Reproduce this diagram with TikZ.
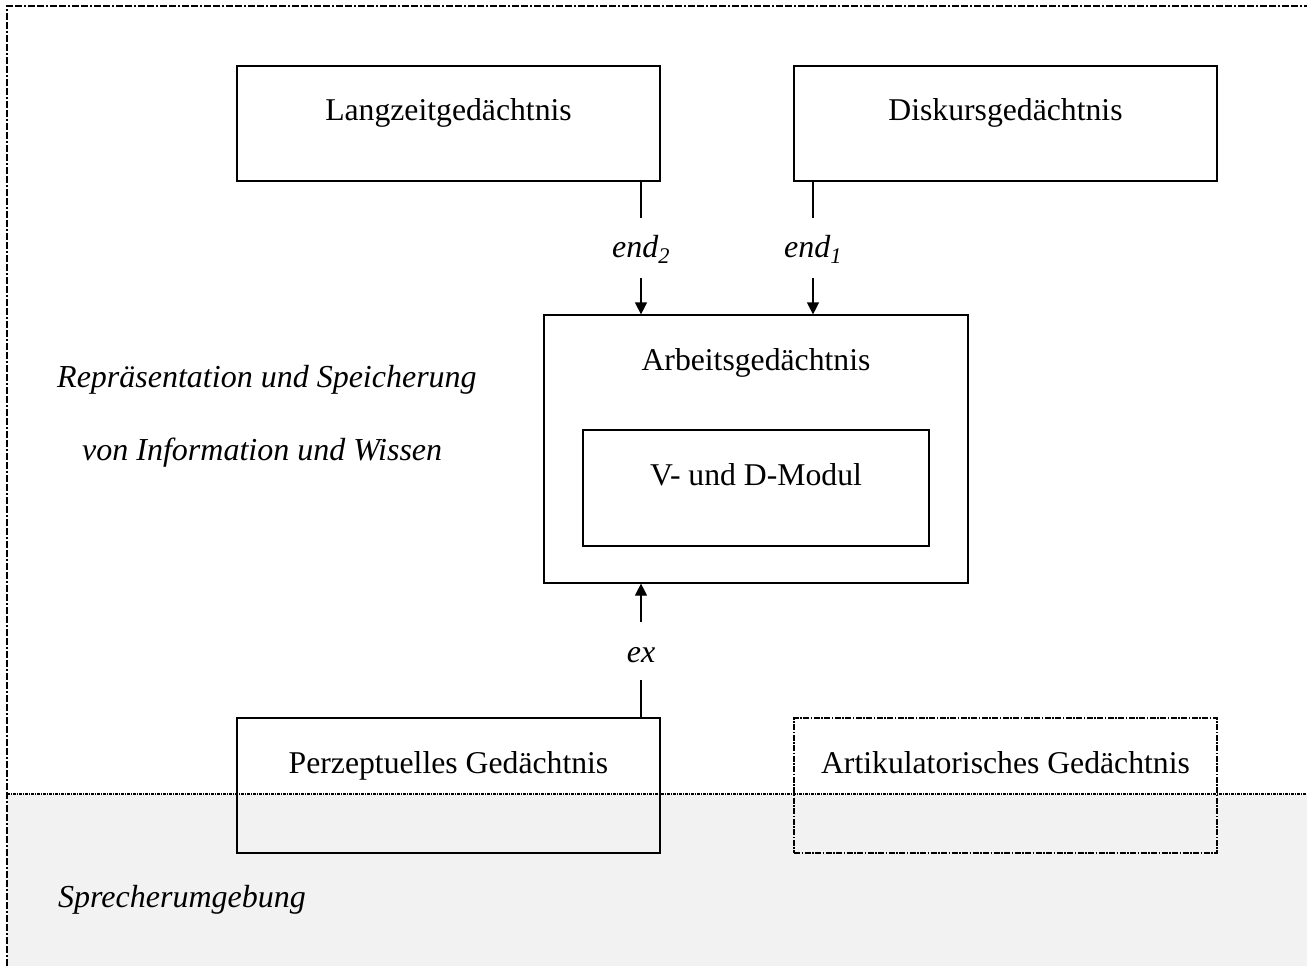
\documentclass[tikz,border=0pt]{standalone}
\usepackage{fontspec}
\setmainfont{Liberation Serif}
\usetikzlibrary{arrows.meta}
\definecolor{envgray}{HTML}{F2F2F2}
\begin{document}
\begin{tikzpicture}[x=1pt,y=-1pt,
  every node/.style={font=\fontsize{31.7}{38}\selectfont},
  box/.style={draw, line width=1.2pt, inner sep=0pt, text height=22pt, align=center},
  tag/.style={inner sep=0pt, font=\fontsize{32}{38}\selectfont\itshape},
  lbl/.style={inner sep=0pt, minimum height=60pt, text height=22pt, text depth=4pt, font=\fontsize{32}{38}\selectfont\itshape},
  arr/.style={line width=1.2pt, -{Triangle[length=12pt,width=12pt]}},
  conn/.style={line width=1.2pt}
]
\useasboundingbox (0,0) rectangle (1307,966);
\fill[white] (0,0) rectangle (1307,966);
% environment
\fill[envgray] (7,794) rectangle (1310,970);
\draw[line width=1.2pt, dash pattern=on 3pt off 1pt on 1pt off 1pt] (7,794) -- (1310,794);
% outer border
\draw[line width=2.2pt, dash pattern=on 7pt off 2pt on 7pt off 2pt on 2pt off 2pt] (7,975) -- (7,6) -- (1315,6);

% boxes
\node[box, minimum width=423pt, minimum height=115pt, text depth=27pt] (lang) at (448.5,123.5) {Langzeitgedächtnis};
\node[box, minimum width=423pt, minimum height=115pt, text depth=27pt] (disk) at (1005.5,123.5) {Diskursgedächtnis};
\node[box, minimum width=424pt, minimum height=268pt, text depth=180pt] (arb) at (756,449) {Arbeitsgedächtnis};
\node[box, minimum width=346pt, minimum height=116pt, text depth=28pt] (vd) at (756,488) {V- und D-Modul};
\node[box, minimum width=423pt, minimum height=135pt, text depth=47pt] (perz) at (448.5,785.5) {Perzeptuelles Gedächtnis};
\node[box, minimum width=423pt, minimum height=135pt, text depth=47pt,
      dash pattern=on 6pt off 1.5pt on 1.5pt off 1.5pt] (art) at (1005.5,785.5) {Artikulatorisches Gedächtnis};

% labels on connectors
\node[lbl] (e2) at (641,248) {end\textsubscript{\raisebox{-2pt}{2}}};
\node[lbl] (e1) at (813,248) {end\textsubscript{\raisebox{-2pt}{1}}};
\node[lbl, minimum height=58pt, text height=26pt] (ex) at (641,651) {ex};

\draw[conn] (lang.south -| e2) -- (e2.north);
\draw[arr] (e2.south) -- (arb.north -| e2);
\draw[conn] (disk.south -| e1) -- (e1.north);
\draw[arr] (e1.south) -- (arb.north -| e1);
\draw[conn] (perz.north -| ex) -- (ex.south);
\draw[arr] (ex.north) -- (arb.south -| ex);

% side texts
\node[tag, anchor=base west] (rep) at (57,387) {Repräsentation und Speicherung};
\node[tag, anchor=base west] (von) at (82,460) {von Information und Wissen};
\node[tag, anchor=base west] (spr) at (58,907) {Sprecherumgebung};
\end{tikzpicture}
\end{document}
